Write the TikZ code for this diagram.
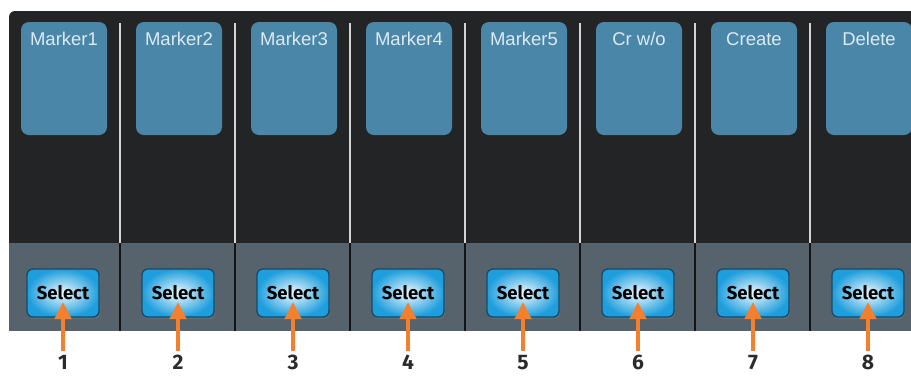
\documentclass[tikz,border=0pt]{standalone}
\usepackage{fontspec}
\setmainfont{Liberation Sans}
\newfontfamily\selfont{Fira Sans}
\usetikzlibrary{arrows.meta,shadows}
\definecolor{panel}{HTML}{232426}
\definecolor{strip}{HTML}{56636D}
\definecolor{padblue}{HTML}{4A86A8}
\definecolor{padtxt}{HTML}{DCEAF2}
\definecolor{btnedge}{HTML}{174A66}
\definecolor{btnout}{HTML}{1E9EDD}
\definecolor{btnin}{HTML}{EEF9FF}
\definecolor{orng}{HTML}{F47F2C}
\definecolor{divlight}{HTML}{D4D4D4}
\definecolor{divdark}{HTML}{141414}
\definecolor{numtxt}{HTML}{2B2B2B}
\tikzset{
  pad/.style={fill=padblue, rounded corners=8pt, minimum width=86pt, minimum height=113pt, inner sep=0pt},
  padtext/.style={text=padtxt, font=\fontsize{18.5}{21}\selectfont, inner sep=0pt},
  btn/.style={draw=btnedge, line width=1.3pt, rounded corners=6pt, inner color=btnin, outer color=btnout,
    minimum width=72pt, minimum height=48pt, inner sep=0pt, text=black,
    font=\selfont\bfseries\fontsize{18.5}{21}\selectfont,
    drop shadow={shadow xshift=1pt, shadow yshift=-2pt, opacity=0.35}},
  numlbl/.style={text=numtxt, font=\selfont\bfseries\fontsize{21}{23}\selectfont, inner sep=0pt},
  arr/.style={draw=orng, line width=4.5pt, -{Triangle[width=16pt,length=17pt]}},
  divtop/.style={draw=divlight, line width=1.8pt},
  divbot/.style={draw=divdark, line width=2pt}
}
\begin{document}
\begin{tikzpicture}[x=1pt,y=-1pt]
\useasboundingbox (0,0) rectangle (911,376);
\fill[white] (0,0) rectangle (911,376);
% panel
\fill[panel] (9,243) [rounded corners=6pt] -- (9,11) [sharp corners] -- (911,11) -- (911,243) -- cycle;
\fill[strip] (9,243) rectangle (911,331);
% dividers
\foreach \k in {0,...,6}{
  \draw[divtop] ({120+115*\k},23) -- ({120+115*\k},243);
  \draw[divbot] ({120+115*\k},243) -- ({120+115*\k},331);
}
% columns
\foreach \i/\lab in {1/{Marker1},2/{Marker2},3/{Marker3},4/{Marker4},5/{Marker5},6/{Cr w/o},7/{Create},8/{Delete}}{
  \pgfmathsetmacro{\cx}{63+115*(\i-1)}
  \node[pad] (p\i) at ({\cx+1},78.5) {};
  \node[padtext, anchor=base] (t\i) at ({\cx+1},45) {\lab};
  \node[btn] (b\i) at (\cx,293) {Select};
  \node[numlbl, anchor=base] (n\i) at (\cx,369.5) {\i};
  \coordinate (s\i) at (\cx,351);
  \coordinate (h\i) at (\cx,302);
  \draw[arr] (s\i) -- (h\i);
}
\end{tikzpicture}
\end{document}
